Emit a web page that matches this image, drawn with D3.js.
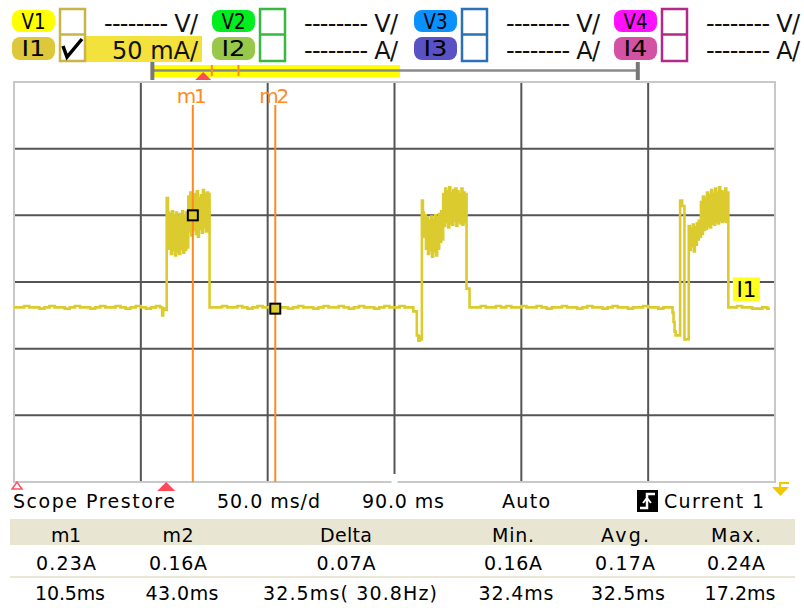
<!DOCTYPE html>
<html><head><meta charset="utf-8">
<script src="https://cdn.jsdelivr.net/npm/d3@7"></script>
<style>body{margin:0;background:#fff}svg{display:block}</style>
</head><body>
<svg id="c" width="804" height="608"></svg>
<script>
// ---------------- DATA ----------------
const timeDomainMs = [-60, 240];          // 6 div x 50 ms/d
const currentDomainA = [0.03, 0.33];      // 6 div x 50 mA/div
const gridTimeMs = [-60, -10, 40, 90, 140, 190, 240];
const gridCurrentA = [0.03, 0.08, 0.13, 0.18, 0.23, 0.28, 0.33];

// Current 1 trace, [time ms, current A]
const tracePre = [[-60,.161],[-58,.161],[-56,.162],[-54,.161],[-52,.161],[-50,.160],[-48,.161],[-46,.162],[-44,.161],[-42,.161],[-40,.160],[-38,.161],[-36,.162],[-34,.161],[-32,.161],[-30,.160],[-28,.161],[-26,.162],[-24,.161],[-22,.161],[-20,.162],[-18,.161],[-16,.160],[-14,.161],[-12,.162],[-10,.161],[-8,.160],[-6,.161],[-4,.162],[-2.4,.161],[-1.6,.155],[-1.2,.160],[-0.4,.159],[0.2,.243]];
const traceBurst1 = [[0.7,.232],[1.1,.205],[1.5,.231],[1.9,.201],[2.3,.233],[2.7,.204],[3.1,.230],[3.5,.200],[3.9,.232],[4.3,.203],[4.7,.229],[5.1,.201],[5.5,.231],[5.9,.205],[6.3,.233],[6.7,.202],[7.1,.230],[7.5,.204],[7.9,.232],[8.3,.206],[8.7,.244],[9.1,.218],[9.5,.247],[9.9,.215],[10.3,.242],[10.5,.230],[10.9,.219],[11.3,.246],[11.7,.216],[12.1,.248],[12.5,.214],[12.9,.243],[13.3,.220],[13.7,.245],[14.1,.217],[14.5,.249],[14.9,.221],[15.3,.246],[15.7,.218],[16.1,.247],[16.5,.220],[16.8,.246],[17.1,.161]];
const traceMid = [[18,.161],[20,.161],[22,.162],[24,.161],[26,.161],[28,.162],[30,.161],[32,.160],[34,.161],[36,.162],[38,.161],[40,.161],[42,.162],[44,.161],[46,.161],[48,.160],[50,.161],[52,.162],[54,.161],[56,.161],[58,.160],[60,.161],[62,.162],[64,.161],[66,.161],[68,.162],[70,.161],[72,.160],[74,.161],[76,.162],[78,.161],[80,.161],[82,.160],[84,.161],[86,.162],[88,.161],[90,.161],[92,.162],[94,.161],[96,.161],[97.4,.158],[98.8,.140],[99.4,.136],[100.0,.139],[100.4,.137],[100.8,.241]];
const traceBurst2 = [[101.2,.232],[101.6,.214],[102.0,.230],[102.4,.205],[102.8,.228],[103.2,.201],[103.6,.226],[104.0,.204],[104.4,.229],[104.8,.199],[105.2,.227],[105.6,.203],[106.0,.230],[106.4,.200],[106.8,.228],[107.2,.205],[107.6,.231],[108.0,.210],[108.4,.233],[108.8,.212],[109.2,.246],[109.6,.222],[110.0,.250],[110.4,.225],[110.8,.248],[111.2,.221],[111.6,.251],[112.0,.224],[112.4,.247],[112.8,.223],[113.2,.249],[113.6,.226],[114.0,.250],[114.4,.222],[114.8,.248],[115.2,.225],[115.6,.246],[116.0,.224],[116.4,.250],[116.8,.223],[117.2,.247],[117.6,.225],[118.0,.246],[118.4,.175],[119.6,.161]];
const traceLate = [[120,.161],[122,.161],[124,.162],[126,.161],[128,.161],[130,.162],[132,.161],[134,.162],[136,.161],[138,.161],[140,.162],[142,.161],[144,.161],[146,.162],[148,.161],[150,.160],[152,.161],[154,.161],[156,.162],[158,.161],[160,.161],[162,.160],[164,.161],[166,.162],[168,.161],[170,.161],[172,.160],[174,.161],[176,.162],[178,.161],[180,.161],[182,.160],[184,.161],[186,.161],[188,.162],[190,.161],[192,.161],[194,.160],[196,.161],[198,.161],[199.6,.157],[200.0,.150],[200.4,.143],[200.8,.140],[202.6,.241],[203.4,.237],[204.3,.137],[206.0,.222]];
const traceBurst3 = [[206.4,.204],[206.8,.220],[207.2,.207],[207.6,.223],[208.0,.203],[208.4,.221],[208.8,.208],[209.2,.224],[209.6,.212],[210.0,.226],[210.4,.214],[210.8,.240],[211.2,.216],[211.6,.244],[212.0,.219],[212.4,.243],[212.8,.220],[213.2,.247],[213.6,.222],[214.0,.245],[214.4,.221],[214.8,.249],[215.2,.224],[215.6,.246],[216.0,.223],[216.4,.250],[216.8,.225],[217.2,.247],[217.6,.224],[218.0,.251],[218.4,.226],[218.8,.248],[219.2,.225],[219.6,.247],[220.0,.226],[220.4,.250],[220.8,.225],[221.2,.247],[221.6,.161]];
const traceEnd = [[223,.161],[225,.162],[227,.161],[229,.161],[231,.160],[233,.160],[235,.161],[237,.160],[238,.160]];

const markerNames = ["m1", "m2"];
const markerTimeMs = [10.5, 43.0];
const markerCurrentA = [0.23, 0.16];
const triggerTimeMs = 0;
const delayTimeMs = 90;
const recordSpanMs = [-62, 530];

const channelVLabels = ["V1", "V2", "V3", "V4"];
const channelILabels = ["I1", "I2", "I3", "I4"];
const channelVText = ["-------- V/", "-------- V/", "-------- V/", "-------- V/"];
const channelIText = ["50 mA/", "-------- A/", "-------- A/", "-------- A/"];

const statusTexts = ["Scope Prestore", "50.0 ms/d", "90.0 ms", "Auto", "Current 1"];
const tableHeaders = ["m1", "m2", "Delta", "Min.", "Avg.", "Max."];
const tableRow1 = ["0.23A", "0.16A", "0.07A", "0.16A", "0.17A", "0.24A"];
const tableRow2 = ["10.5ms", "43.0ms", "32.5ms( 30.8Hz)", "32.4ms", "32.5ms", "17.2ms"];
const traceLabel = "I1";

// ---------------- STYLE / LAYOUT ----------------
const FONT = "'DejaVu Sans', sans-serif";
const vFill = ["#ffff00", "#00ee20", "#0a90ff", "#ff10ff"];
const iFill = ["#dcc83a", "#98c84a", "#5a52c4", "#d452a4"];
const boxStroke = ["#c8b448", "#38b840", "#2a72b4", "#b4288a"];
const groupX = [12, 212, 414, 614];
const traceColor = "#dccb2e";
const orange = "#ff8a1e";

const svg = d3.select("#c");
const x = d3.scaleLinear().domain(timeDomainMs).range([14, 775]);
const y = d3.scaleLinear().domain(currentDomainA).range([482, 82]);
const ov = d3.scaleLinear().domain(timeDomainMs).range([154, 400]);

function label(g, str, px, py, o) {
  o = o || {};
  const t = g.append("text").attr("x", px).attr("y", py).text(str)
    .attr("font-family", o.family || FONT).attr("font-size", o.size || 19)
    .attr("fill", o.color || "#000").attr("text-anchor", o.anchor || "start");
  if (o.weight) t.attr("font-weight", o.weight);
  if (o.len) t.attr("textLength", o.len).attr("lengthAdjust", o.adjust || "spacing");
  return t;
}

// ---------------- HEADER ----------------
const hdr = svg.append("g");
hdr.append("rect").attr("x", 59).attr("y", 36).attr("width", 143).attr("height", 26).attr("fill", "#f4e23c");
channelVLabels.forEach((v, i) => {
  const gx = groupX[i];
  hdr.append("rect").attr("x", gx).attr("y", 10).attr("width", 43).attr("height", 22).attr("rx", 8).attr("fill", vFill[i]);
  hdr.append("rect").attr("x", gx).attr("y", 37).attr("width", 43).attr("height", 23).attr("rx", 8).attr("fill", iFill[i]);
  label(hdr, v, gx + 21.5, 29, {anchor: "middle", size: 21, len: 24, adjust: "spacingAndGlyphs"});
  label(hdr, channelILabels[i], gx + 21.5, 56, {anchor: "middle", size: 21, len: 24, adjust: "spacingAndGlyphs"});
  hdr.append("rect").attr("x", gx + 48).attr("y", 9).attr("width", 25).attr("height", 52)
    .attr("fill", "#fff").attr("stroke", boxStroke[i]).attr("stroke-width", 2.5);
  hdr.append("line").attr("x1", gx + 48).attr("x2", gx + 73).attr("y1", 34.5).attr("y2", 34.5)
    .attr("stroke", boxStroke[i]).attr("stroke-width", 2.5);
  label(hdr, channelVText[i], gx + 186, 32, {anchor: "end", size: 24, len: 94, color: "#111"});
  label(hdr, channelIText[i], gx + 186, 59, {anchor: "end", size: 24, len: i === 0 ? 86 : 94, color: "#111"});
});
hdr.append("path").attr("d", "M63,46 L67,57 L82,39").attr("fill", "none").attr("stroke", "#000").attr("stroke-width", 3.5);

// overview bar
const ovg = svg.append("g");
ovg.append("rect").attr("x", ov(timeDomainMs[0])).attr("y", 65).attr("width", ov(timeDomainMs[1]) - ov(timeDomainMs[0])).attr("height", 12).attr("fill", "#ffff00");
ovg.append("line").attr("x1", ov(recordSpanMs[0])).attr("x2", ov(recordSpanMs[1])).attr("y1", 70.5).attr("y2", 70.5).attr("stroke", "#8a8a8a").attr("stroke-width", 2.5);
recordSpanMs.forEach(t => ovg.append("line").attr("x1", ov(t)).attr("x2", ov(t)).attr("y1", 62).attr("y2", 80).attr("stroke", "#777").attr("stroke-width", 4));
markerTimeMs.forEach(t => ovg.append("line").attr("x1", ov(t)).attr("x2", ov(t)).attr("y1", 65).attr("y2", 76).attr("stroke", orange).attr("stroke-width", 2));
{
  const cx = ov(triggerTimeMs);
  ovg.append("path").attr("d", `M${cx - 8},80 L${cx + 8},80 L${cx},72 Z`).attr("fill", "#ff4a5a");
}

// ---------------- PLOT ----------------
const plot = svg.append("g");
gridTimeMs.slice(1, -1).forEach(t => plot.append("line").attr("x1", x(t)).attr("x2", x(t)).attr("y1", y(currentDomainA[1])).attr("y2", y(currentDomainA[0]) - (t === delayTimeMs ? 8 : 0)).attr("stroke", "#555").attr("stroke-width", 2));
gridCurrentA.slice(1, -1).forEach(a => plot.append("line").attr("x1", x(timeDomainMs[0])).attr("x2", x(timeDomainMs[1])).attr("y1", y(a)).attr("y2", y(a)).attr("stroke", "#555").attr("stroke-width", 2));
plot.append("rect").attr("x", x(timeDomainMs[0])).attr("y", y(currentDomainA[1])).attr("width", x(timeDomainMs[1]) - x(timeDomainMs[0])).attr("height", y(currentDomainA[0]) - y(currentDomainA[1]))
  .attr("fill", "none").attr("stroke", "#c8c8c8").attr("stroke-width", 2);
plot.append("rect").attr("x", x(delayTimeMs) - 3).attr("y", y(currentDomainA[0]) - 2).attr("width", 6).attr("height", 4).attr("fill", "#fff");

// trace
const trace = [].concat(tracePre, traceBurst1, traceMid, traceBurst2, traceLate, traceBurst3, traceEnd);
plot.append("path").datum(trace)
  .attr("d", d3.line().x(d => x(d[0])).y(d => y(d[1])).curve(d3.curveStepAfter))
  .attr("fill", "none").attr("stroke", traceColor).attr("stroke-width", 2.6).attr("stroke-linejoin", "miter");

// I1 label
{
  const lx = x(traceEnd[0][0]) + 1, ly = y(traceEnd[0][1]) - 30;
  plot.append("rect").attr("x", lx).attr("y", ly).attr("width", 27).attr("height", 24).attr("fill", "#ffff20");
  label(plot, traceLabel, lx + 13.5, ly + 20, {anchor: "middle", size: 22, len: 20, adjust: "spacingAndGlyphs"});
}

// markers
markerTimeMs.forEach((t, i) => {
  plot.append("line").attr("x1", x(t)).attr("x2", x(t)).attr("y1", 105).attr("y2", y(currentDomainA[0])).attr("stroke", orange).attr("stroke-width", 2);
  label(plot, markerNames[i], x(t) - 1, 103, {anchor: "middle", size: 20, color: orange, len: 30});
  plot.append("rect").attr("x", x(t) - 5).attr("y", y(markerCurrentA[i]) - 5).attr("width", 10).attr("height", 10)
    .attr("fill", traceColor).attr("stroke", "#000").attr("stroke-width", 2);
});

{
  const tx = x(triggerTimeMs);
  plot.append("path").attr("d", `M${tx - 9},491 L${tx + 9},491 L${tx},482 Z`).attr("fill", "#ff4a5a");
  plot.append("path").attr("d", "M12,489 L22,489 L17,482 Z").attr("fill", "none").attr("stroke", "#ff5060").attr("stroke-width", 1.5);
  plot.append("path").attr("d", "M772,487 L789,487 L780.5,496 Z").attr("fill", "#f0c800");
  plot.append("path").attr("d", "M780,487 L780,483 L789,483").attr("fill", "none").attr("stroke", "#f0c800").attr("stroke-width", 2);
}

// ---------------- STATUS LINE ----------------
const st = svg.append("g");
const statusX = [13, 217, 362, 502, 664];
const statusLen = [162, 103, 82, 48, 100];
statusTexts.forEach((s, i) => label(st, s, statusX[i], 508, {size: 19, len: statusLen[i]}));
st.append("rect").attr("x", 637).attr("y", 490).attr("width", 21).attr("height", 22).attr("fill", "#000");
st.append("path").attr("d", "M640,508 H647 V494 H655").attr("fill", "none").attr("stroke", "#fff").attr("stroke-width", 2.5);
st.append("path").attr("d", "M643,503 L647,498 L651,503").attr("fill", "none").attr("stroke", "#fff").attr("stroke-width", 2);

// ---------------- TABLE ----------------
const tb = svg.append("g");
tb.append("rect").attr("x", 10).attr("y", 519).attr("width", 785).attr("height", 26).attr("fill", "#e9e5d3");
tb.append("line").attr("x1", 10).attr("x2", 795).attr("y1", 577).attr("y2", 577).attr("stroke", "#ebe7d7").attr("stroke-width", 2);
const colX = [66, 178, 346, 513, 625, 736];
const hLen = [30, 31, 52, 42, 48, 50];
const r1Len = [60, 58, 59, 58, 60, 58];
const r2Len = [70, 73, 174, 75, 74, 71];
const r2X = [70, 182, 350, 516, 628, 740];
tableHeaders.forEach((h, i) => label(tb, h, colX[i], 542, {anchor: "middle", size: 19, len: hLen[i]}));
tableRow1.forEach((h, i) => label(tb, h, colX[i], 570, {anchor: "middle", size: 19, len: r1Len[i]}));
tableRow2.forEach((h, i) => label(tb, h, r2X[i], 600, {anchor: "middle", size: 19, len: r2Len[i]}));
</script>
</body></html>
